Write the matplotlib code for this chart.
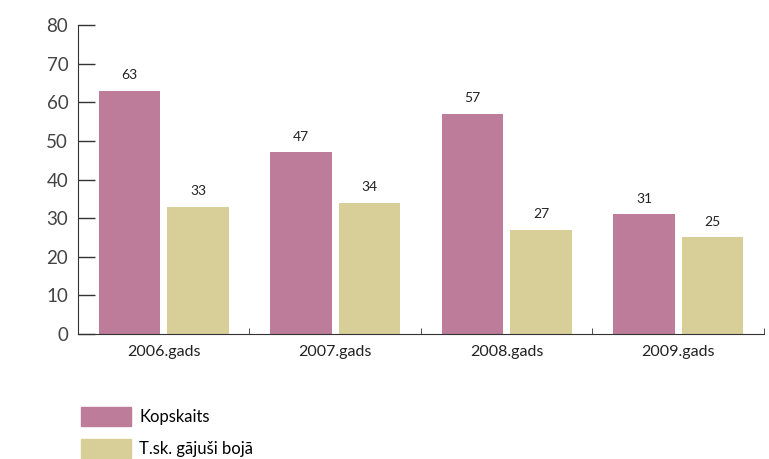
import matplotlib
matplotlib.use('Agg')
import matplotlib.pyplot as plt
from matplotlib.patches import Patch
import numpy as np

plt.rcParams['font.family'] = ['Lato', 'DejaVu Sans']

years = ['2006.gads', '2007.gads', '2008.gads', '2009.gads']
kopskaits = [63, 47, 57, 31]
gajusi_boja = [33, 34, 27, 25]
series_names = ['Kopskaits', 'T.sk. gājuši bojā']
colors = ['#bc7c9a', '#d8cf98']

fig = plt.figure(figsize=(7.69, 4.59), dpi=100)
ax = fig.add_axes([0.1014, 0.2723, 0.8921, 0.6732])

x = np.arange(len(years))
w = 0.36
b1 = ax.bar(x - 0.2, kopskaits, w, color=colors[0])
b2 = ax.bar(x + 0.2, gajusi_boja, w, color=colors[1])
for bars in (b1, b2):
    for r in bars:
        ax.annotate(f'{r.get_height():.0f}', (r.get_x() + r.get_width() / 2, r.get_height()),
                    xytext=(0, 7), textcoords='offset points', ha='center', va='bottom',
                    fontsize=10, color='#222222')

ax.set_xlim(-0.5, 3.5)
ax.set_ylim(0, 80)
ax.set_yticks(range(0, 81, 10))
ax.set_xticks(x)
ax.set_xticklabels(years, fontsize=11.5, color='#222222')
ax.set_xticks(x + 0.5, minor=True)
ax.tick_params(axis='x', which='major', length=0, pad=8)
ax.tick_params(axis='x', which='minor', direction='in', length=4, color='#333333')
ax.tick_params(axis='y', direction='in', length=12, width=1, color='#333333',
               labelsize=13.5, labelcolor='#444444', pad=7)
for s in ('top', 'right'):
    ax.spines[s].set_visible(False)
for s in ('left', 'bottom'):
    ax.spines[s].set_color('#333333')

handles = [Patch(color=c) for c in colors]
fig.legend(handles, series_names, loc='upper left', bbox_to_anchor=(81 / 769, 1 - 407 / 459),
           frameon=False, fontsize=12, handlelength=3.0, handleheight=1.38,
           labelspacing=0.8, handletextpad=0.5, borderpad=0, borderaxespad=0)

fig.savefig('out.png', dpi=100)
